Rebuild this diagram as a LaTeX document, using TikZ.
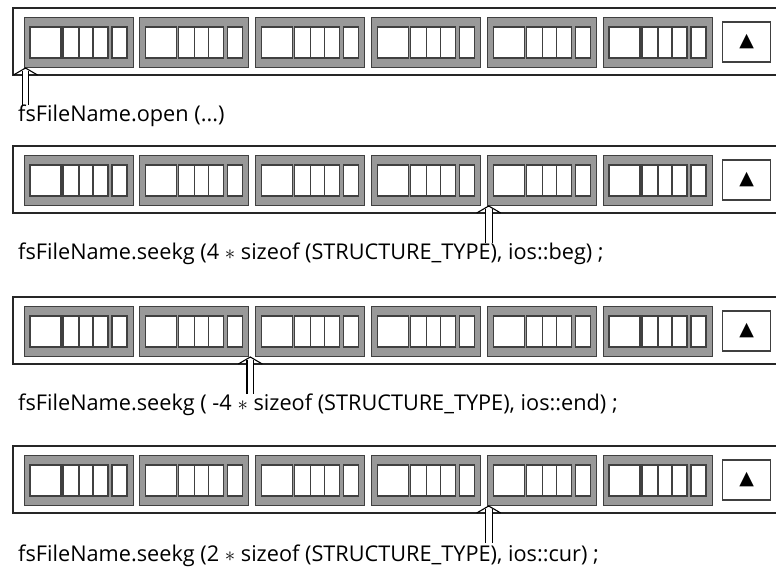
\documentclass[tikz,border=0pt]{standalone}
\usepackage{fontspec}
\setmainfont{Open Sans}
\newfontfamily\symfont{DejaVu Sans}
\usetikzlibrary{positioning}

\definecolor{slotgray}{gray}{0.6}
\definecolor{edgegray}{gray}{0.25}

\begin{document}
\begin{tikzpicture}[
            x=1pt, y=-1pt,
            filebox/.style={draw=black!85, line width=1.5pt},
            field/.style={draw=edgegray, fill=white, line width=1.1pt},
            record/.style={rectangle, draw=edgegray, fill=slotgray, line width=1pt, anchor=north west,
                minimum width=109pt, minimum height=50pt, inner sep=0pt, outer sep=0pt,
                path picture={
                    \draw[field] ([shift={(6pt,-10pt)}]path picture bounding box.north west) rectangle ++(31pt,-31pt);
                    \draw[field] ([shift={(39pt,-10pt)}]path picture bounding box.north west) rectangle ++(45pt,-31pt);
                    \draw[field] ([shift={(55pt,-10pt)}]path picture bounding box.north west) -- ++(0pt,-31pt);
                    \draw[field] ([shift={(69pt,-10pt)}]path picture bounding box.north west) -- ++(0pt,-31pt);
                    \draw[field] ([shift={(88pt,-10pt)}]path picture bounding box.north west) rectangle ++(15pt,-31pt);
                }},
            eofbox/.style={rectangle, draw=edgegray, fill=white, line width=1.1pt, minimum width=48pt, minimum height=40pt, inner sep=0pt, font=\symfont\fontsize{19}{19}\selectfont},
            shaft/.style={double, double distance=5.6pt, line width=1.1pt},
            barb/.style={line width=1.1pt, line join=miter},
            code/.style={anchor=base west, inner sep=0pt, font=\fontsize{21.7}{23}\selectfont}
            ]
            \useasboundingbox (0,0) rectangle (776,570);

            % File after open
            \draw[filebox] (776,8) -| (13,75) -- (776,75);
            \node[record] (rec11) at (24,17) {};
            \node[record, right=6.8pt of rec11] (rec12) {};
            \node[record, right=6.8pt of rec12] (rec13) {};
            \node[record, right=6.8pt of rec13] (rec14) {};
            \node[record, right=6.8pt of rec14] (rec15) {};
            \node[record, right=6.8pt of rec15] (rec16) {};
            \node[eofbox, right=10pt of rec16] (eof1) {▲};
            \coordinate (tip1) at ([shift={(1.5pt,-1pt)}]rec11.south west);
            \coordinate[below=38pt of rec11.south west] (ptr1);
            \draw[shaft] ([xshift=1.5pt]ptr1) -- ([yshift=-2.5pt]tip1);
            \draw[barb] ([shift={(-12pt,-7pt)}]tip1) -- (tip1) -- ([shift={(12pt,-7pt)}]tip1);
            \node[code] (cmd1) at (18,121) {fsFileName.open (...)};

            % Seek from the beginning
            \draw[filebox] (776,146) -| (13,213) -- (776,213);
            \node[record] (rec21) at (24,155) {};
            \node[record, right=6.8pt of rec21] (rec22) {};
            \node[record, right=6.8pt of rec22] (rec23) {};
            \node[record, right=6.8pt of rec23] (rec24) {};
            \node[record, right=6.8pt of rec24] (rec25) {};
            \node[record, right=6.8pt of rec25] (rec26) {};
            \node[eofbox, right=10pt of rec26] (eof2) {▲};
            \coordinate (tip2) at ([shift={(1.5pt,-1pt)}]rec25.south west);
            \coordinate[below=38pt of rec25.south west] (ptr2);
            \draw[shaft] ([xshift=1.5pt]ptr2) -- ([yshift=-2.5pt]tip2);
            \draw[barb] ([shift={(-12pt,-7pt)}]tip2) -- (tip2) -- ([shift={(12pt,-7pt)}]tip2);
            \node[code] (cmd2) at (18,259) {fsFileName.seekg (4 $\ast$ sizeof (STRUCTURE\_TYPE), ios::beg) ;};

            % Seek back from the end
            \draw[filebox] (776,297) -| (13,364) -- (776,364);
            \node[record] (rec31) at (24,306) {};
            \node[record, right=6.8pt of rec31] (rec32) {};
            \node[record, right=6.8pt of rec32] (rec33) {};
            \node[record, right=6.8pt of rec33] (rec34) {};
            \node[record, right=6.8pt of rec34] (rec35) {};
            \node[record, right=6.8pt of rec35] (rec36) {};
            \node[eofbox, right=10pt of rec36] (eof3) {▲};
            \coordinate (tip3) at ([shift={(1.5pt,-1pt)}]rec32.south east);
            \coordinate[below=38pt of rec32.south east] (ptr3);
            \draw[shaft] ([xshift=1.5pt]ptr3) -- ([yshift=-2.5pt]tip3);
            \draw[barb] ([shift={(-12pt,-7pt)}]tip3) -- (tip3) -- ([shift={(12pt,-7pt)}]tip3);
            \node[code] (cmd3) at (18,410) {fsFileName.seekg ( -4 $\ast$ sizeof (STRUCTURE\_TYPE), ios::end) ;};

            % Seek from the current position
            \draw[filebox] (776,446) -| (13,513) -- (776,513);
            \node[record] (rec41) at (24,455) {};
            \node[record, right=6.8pt of rec41] (rec42) {};
            \node[record, right=6.8pt of rec42] (rec43) {};
            \node[record, right=6.8pt of rec43] (rec44) {};
            \node[record, right=6.8pt of rec44] (rec45) {};
            \node[record, right=6.8pt of rec45] (rec46) {};
            \node[eofbox, right=10pt of rec46] (eof4) {▲};
            \coordinate (tip4) at ([shift={(1.5pt,-1pt)}]rec45.south west);
            \coordinate[below=38pt of rec45.south west] (ptr4);
            \draw[shaft] ([xshift=1.5pt]ptr4) -- ([yshift=-2.5pt]tip4);
            \draw[barb] ([shift={(-12pt,-7pt)}]tip4) -- (tip4) -- ([shift={(12pt,-7pt)}]tip4);
            \node[code] (cmd4) at (18,561) {fsFileName.seekg (2 $\ast$ sizeof (STRUCTURE\_TYPE), ios::cur) ;};

        \end{tikzpicture}
\end{document}
